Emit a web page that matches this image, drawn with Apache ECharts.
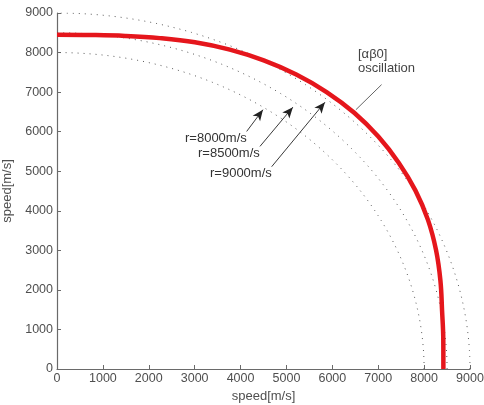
<!DOCTYPE html>
<html>
<head>
<meta charset="utf-8">
<script src="https://cdn.jsdelivr.net/npm/echarts@6/dist/echarts.min.js"></script>
<style>
  html, body { margin: 0; padding: 0; background: #fff; }
  #chart { width: 484px; height: 405px; }
</style>
</head>
<body>
<div id="chart"></div>
<script>
// Axis ticks (m/s)
var xTicks = [0, 1000, 2000, 3000, 4000, 5000, 6000, 7000, 8000, 9000];
var yTicks = [0, 1000, 2000, 3000, 4000, 5000, 6000, 7000, 8000, 9000];

// Reference speed circles (radius in m/s)
var circleRadii = [8000, 8500, 9000];

// [αβ0] oscillation trajectory, x/y speed components (m/s)
var oscX = [8420, 8418, 8391, 8355, 8260, 8084, 7812, 7446, 7002, 6477,
            5875, 5214, 4505, 3766, 3006, 2241, 1485, 739, 0];
var oscY = [0, 736, 1479, 2239, 3006, 3770, 4510, 5214, 5875, 6477,
            7002, 7446, 7803, 8075, 8260, 8365, 8420, 8443, 8450];

// Annotation labels
var circleLabels = ['r=8000m/s', 'r=8500m/s', 'r=9000m/s'];
var oscLabel = '[αβ0]\noscillation';

var FONT = '"Liberation Sans", Arial, sans-serif';

// Quarter circle in speed coordinates for a given radius
function quarterCircle(r) {
  var pts = [];
  for (var a = 0; a <= 90; a += 1) {
    var t = a * Math.PI / 180;
    pts.push([r * Math.cos(t), r * Math.sin(t)]);
  }
  return pts;
}

var oscData = oscX.map(function (x, i) { return [x, oscY[i]]; });

// Arrow geometry (tail -> head) in speed coordinates
var arrows = [
  [[4133, 6006], [4488, 6555]],
  [[4423, 5627], [5140, 6620]],
  [[4678, 5114], [5839, 6744]]
];
var oscPointer = [[7073, 7189], [6514, 6555]];

var axisColor = '#6a6a6a';
var labelColor = '#4f4f4f';

var series = circleRadii.map(function (r) {
  return {
    type: 'line',
    data: quarterCircle(r),
    showSymbol: false,
    silent: true,
    lineStyle: { color: '#5a5a5a', width: 1, type: [1, 5] },
    z: 2
  };
});

series.push({
  type: 'line',
  data: oscData,
  smooth: 0.4,
  showSymbol: false,
  lineStyle: { color: '#e5161c', width: 4.5 },
  z: 5
});

// Arrows and pointer line
series.push({
  type: 'line',
  data: [],
  z: 6,
  markLine: {
    silent: true,
    animation: false,
    label: { show: false },
    emphasis: { disabled: true },
    data: arrows.map(function (a) {
      return [
        { coord: a[0], symbol: 'none', lineStyle: { color: '#222', width: 0.9, type: 'solid' } },
        { coord: a[1], symbol: 'arrow', symbolSize: [7, 11] }
      ];
    }).concat([[
      { coord: oscPointer[0], symbol: 'none', lineStyle: { color: '#555', width: 0.9, type: 'solid' } },
      { coord: oscPointer[1], symbol: 'none' }
    ]])
  }
});

function plain(v) { return String(v); }

var chart = echarts.init(document.getElementById('chart'), null, { renderer: 'canvas' });
chart.setOption({
  animation: false,
  backgroundColor: '#ffffff',
  grid: { left: 57, right: 14, top: 13, bottom: 36, containLabel: false, outerBoundsMode: 'none' },
  xAxis: {
    type: 'value',
    min: xTicks[0],
    max: xTicks[xTicks.length - 1],
    interval: 1000,
    name: 'speed[m/s]',
    nameLocation: 'middle',
    nameGap: 17,
    nameTextStyle: { color: labelColor, fontSize: 13, fontFamily: FONT },
    axisLine: { show: true, onZero: false, lineStyle: { color: axisColor, width: 1.2 } },
    axisTick: { show: true, inside: true, length: 4, lineStyle: { color: axisColor } },
    axisLabel: { color: labelColor, fontSize: 12.5, fontFamily: FONT, margin: 3, formatter: plain },
    splitLine: { show: false }
  },
  yAxis: {
    type: 'value',
    min: yTicks[0],
    max: yTicks[yTicks.length - 1],
    interval: 1000,
    name: 'speed[m/s]',
    nameLocation: 'middle',
    nameGap: 40,
    nameTextStyle: { color: labelColor, fontSize: 13, fontFamily: FONT },
    axisLine: { show: true, onZero: false, lineStyle: { color: axisColor, width: 1.2 } },
    axisTick: { show: true, inside: true, length: 4, lineStyle: { color: axisColor } },
    axisLabel: { color: labelColor, fontSize: 12.5, fontFamily: FONT, margin: 4, formatter: plain },
    splitLine: { show: false }
  },
  series: series,
  graphic: [
    { type: 'text', left: 358, top: 47, style: { text: oscLabel, fill: '#444', font: '13px ' + FONT, lineHeight: 14 } },
    { type: 'text', left: 185, top: 132, style: { text: circleLabels[0], fill: '#333', font: '13px ' + FONT } },
    { type: 'text', left: 198, top: 147, style: { text: circleLabels[1], fill: '#333', font: '13px ' + FONT } },
    { type: 'text', left: 210, top: 167, style: { text: circleLabels[2], fill: '#333', font: '13px ' + FONT } }
  ]
});
</script>
</body>
</html>
